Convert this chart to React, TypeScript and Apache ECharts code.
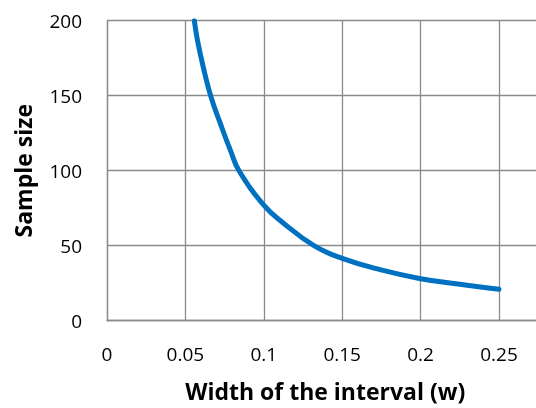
import React, { useEffect, useRef } from "react";
import * as echarts from "echarts";

const widths = [0.0557, 0.0576, 0.0614, 0.0661, 0.0721, 0.0789, 0.0842, 0.1, 0.1114, 0.132, 0.15, 0.1741, 0.2, 0.2251, 0.25];
const sampleSizes = [200, 187.5, 169, 150, 132, 113, 100, 77, 66, 50, 41.5, 34, 28, 24.3, 21];

const xTitle = "Width of the interval (w)";
const yTitle = "Sample size";

export default function App() {
  const ref = useRef<HTMLDivElement>(null);
  useEffect(() => {
    if (!ref.current) return;
    const chart = echarts.init(ref.current, undefined, { renderer: "svg" });
    const font = "'Open Sans', sans-serif";
    const gridColor = "#8a8a8a";
    chart.setOption({
      animation: false,
      grid: { left: 107, top: 20.7, width: 470.4, height: 300, containLabel: false, outerBoundsMode: "none" },
      xAxis: {
        type: "value",
        min: 0,
        max: 0.3,
        interval: 0.05,
        name: xTitle,
        nameLocation: "middle",
        nameGap: 59,
        nameTextStyle: { fontFamily: font, fontSize: 23, fontWeight: "bold", color: "#000", padding: [0, 34, 0, 0] },
        axisLine: { show: true, lineStyle: { color: gridColor, width: 1.3 } },
        axisTick: { show: false },
        axisLabel: { fontFamily: font, fontSize: 19, color: "#000", margin: 24, showMaxLabel: false },
        splitLine: { show: true, lineStyle: { color: gridColor, width: 1.3 } },
      },
      yAxis: {
        type: "value",
        min: 0,
        max: 200,
        interval: 50,
        name: yTitle,
        nameLocation: "middle",
        nameGap: 73,
        nameTextStyle: { fontFamily: font, fontSize: 23, fontWeight: "bold", color: "#000" },
        axisLine: { show: true, lineStyle: { color: gridColor, width: 1.3 } },
        axisTick: { show: false },
        axisLabel: { fontFamily: font, fontSize: 19, color: "#000", margin: 25 },
        splitLine: { show: true, lineStyle: { color: gridColor, width: 1.3 } },
      },
      series: [
        {
          type: "line",
          data: widths.map((w, i) => [w, sampleSizes[i]]),
          smooth: 0.45,
          showSymbol: false,
          lineStyle: { color: "#0070C0", width: 5, cap: "round" },
        },
      ],
    });
    return () => chart.dispose();
  }, []);
  return <div ref={ref} style={{ position: "fixed", left: 0, top: 0, width: 536, height: 408 }} />;
}
